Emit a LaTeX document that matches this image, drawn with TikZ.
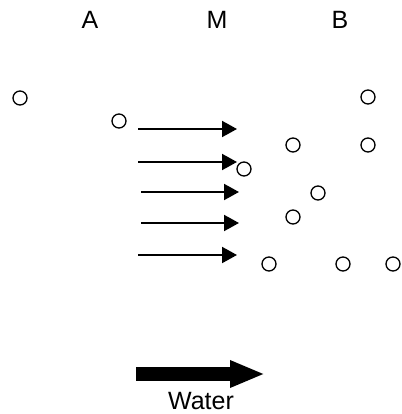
\documentclass[tikz,border=0pt]{standalone}
\usepackage{fontspec}
\setmainfont{Liberation Sans}
\usetikzlibrary{arrows.meta}
\begin{document}
\begin{tikzpicture}[x=1pt,y=-1pt,
  pt/.style={circle,draw,line width=1.3pt,minimum size=14pt,inner sep=0pt},
  flow/.style={line width=2pt,-{Triangle[length=15pt,width=16pt]}},
  bigflow/.style={line width=14pt,-{Triangle[length=35pt,width=25pt]}},
  lbl/.style={font=\fontsize{25}{28}\selectfont,inner sep=0pt}]
\useasboundingbox (0,0) rectangle (401,414);
% labels
\node[lbl] (A) at (90,20) {A};
\node[lbl] (M) at (217,20) {M};
\node[lbl] (B) at (340,20) {B};
% particles
\node[pt] (c1) at (20,98) {};
\node[pt] (c2) at (119,121) {};
\node[pt] (c3) at (368,97) {};
\node[pt] (c4) at (293,145) {};
\node[pt] (c5) at (368,145) {};
\node[pt] (c6) at (244,169) {};
\node[pt] (c7) at (318,193) {};
\node[pt] (c8) at (293,217) {};
\node[pt] (c9) at (269,264) {};
\node[pt] (c10) at (343,264) {};
\node[pt] (c11) at (393,264) {};
% flow arrows
\coordinate (s1) at (138,129); \coordinate (e1) at (237,129);
\coordinate (s2) at (138,162); \coordinate (e2) at (237,162);
\coordinate (s3) at (141,192); \coordinate (e3) at (239,192);
\coordinate (s4) at (141,223); \coordinate (e4) at (239,223);
\coordinate (s5) at (138,255); \coordinate (e5) at (237,255);
\draw[flow] (s1) -- (e1);
\draw[flow] (s2) -- (e2);
\draw[flow] (s3) -- (e3);
\draw[flow] (s4) -- (e4);
\draw[flow] (s5) -- (e5);
% water arrow
\coordinate (ws) at (136,374);
\coordinate (we) at (265,374);
\draw[bigflow] (ws) -- (we);
\node[lbl] (W) at (201,401) {Water};
\end{tikzpicture}
\end{document}
